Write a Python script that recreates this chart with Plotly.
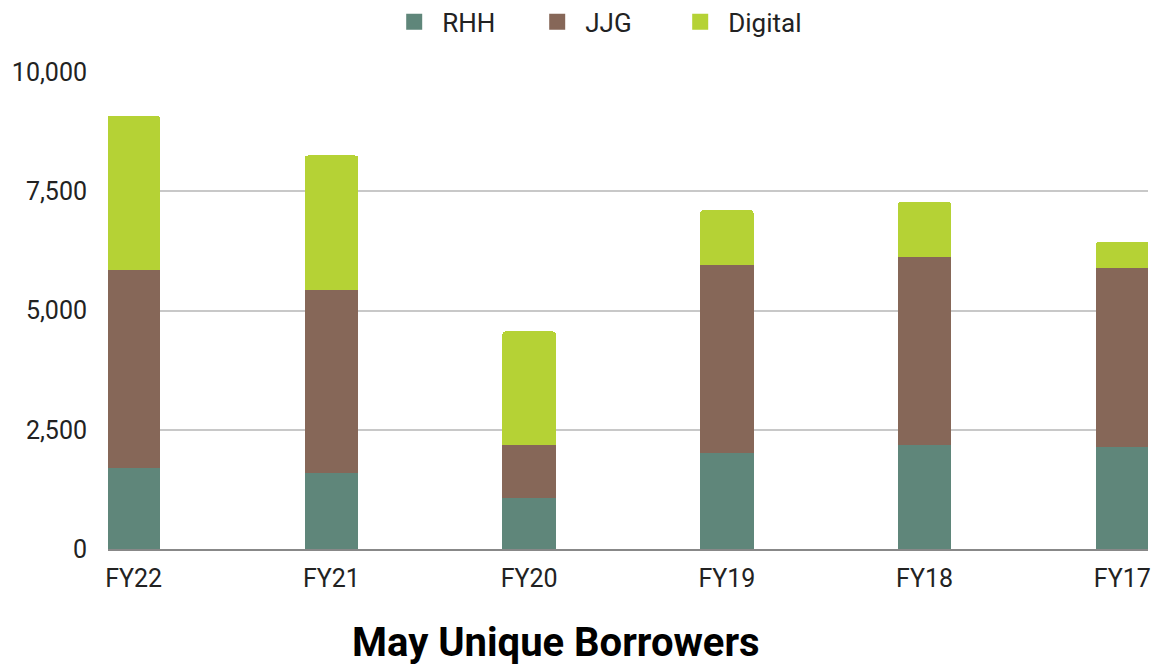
import plotly.graph_objects as go

categories = ["FY22", "FY21", "FY20", "FY19", "FY18", "FY17"]
rhh = [1700, 1600, 1070, 2010, 2180, 2140]
jjg = [4150, 3830, 1110, 3940, 3940, 3750]
digital = [3230, 2820, 2380, 1150, 1150, 545]

tick_vals = [0, 2500, 5000, 7500, 10000]
tick_text = ["0", "2,500", "5,000", "7,500", "10,000"]

colors = {"RHH": "#5f867a", "JJG": "#866758", "Digital": "#b5d235"}

fig = go.Figure()
for name, vals in [("RHH", rhh), ("JJG", jjg), ("Digital", digital)]:
    fig.add_trace(go.Bar(name=name, x=categories, y=vals, marker_color=colors[name],
                         marker_line_width=0, width=0.27, showlegend=False,
                         legendgroup=name))
for name in ["RHH", "JJG", "Digital"]:
    fig.add_trace(go.Scatter(name=name, x=[None], y=[None], mode="markers",
                             marker=dict(symbol="square", size=16, color=colors[name]),
                             legendgroup=name, showlegend=True))

fig.update_layout(
    barmode="stack",
    barcornerradius=3,
    width=1163, height=665,
    paper_bgcolor="white", plot_bgcolor="white",
    margin=dict(l=107, r=13, t=72, b=116),
    font=dict(family="Roboto", color="#222222"),
    legend=dict(orientation="h", x=0.2675, xanchor="left", y=0.967, yanchor="middle",
                yref="container", font=dict(size=26), itemwidth=46,
                entrywidth=82, traceorder="normal"),
    xaxis=dict(range=[-0.13, 5.13], showgrid=False, showline=True, linecolor="#888888",
               linewidth=1.5, tickfont=dict(size=25, color="#222222"), ticks="",
               ticklabelstandoff=6),
    yaxis=dict(range=[0, 10000], tickvals=tick_vals, ticktext=tick_text,
               showgrid=True, gridcolor="#c8c8c8", gridwidth=2, zeroline=False,
               tickfont=dict(size=25, color="#222222"), ticklabelstandoff=20),
    annotations=[dict(text="<b>May Unique Borrowers</b>", x=0.431, xref="paper",
                      y=-0.197, yref="paper", yanchor="middle",
                      showarrow=False, font=dict(size=40, color="#000000", family="Roboto"))],
)
fig.write_html("out.html", config={"displayModeBar": False},
               post_script="document.body.style.margin='0';")
